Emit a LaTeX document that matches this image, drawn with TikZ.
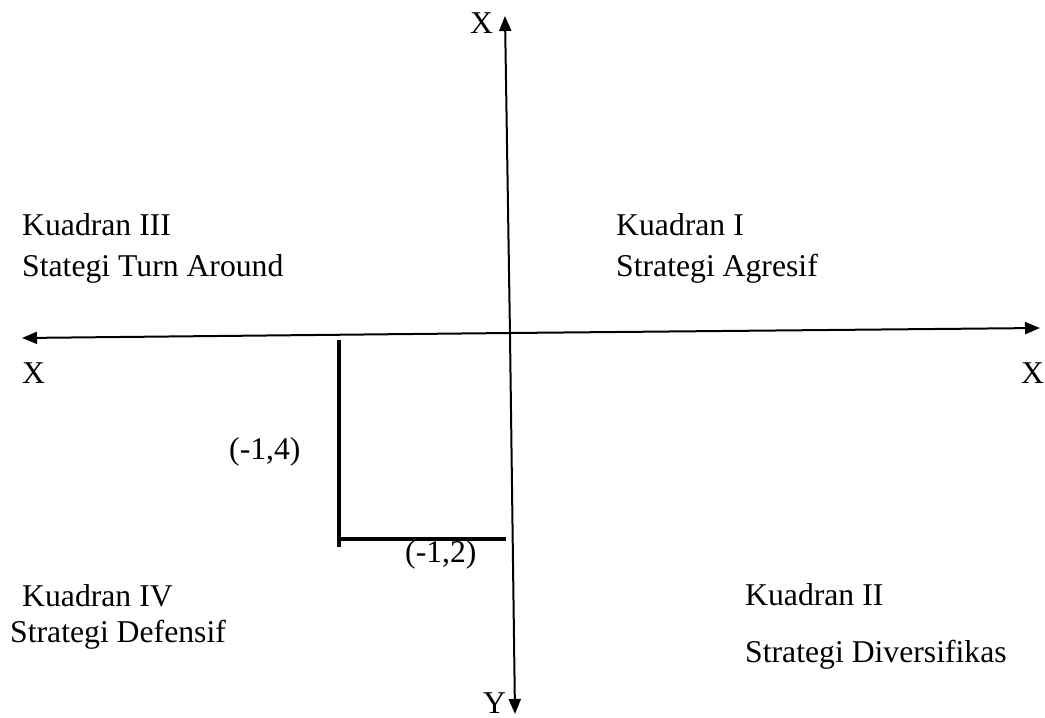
\documentclass[tikz,border=0pt]{standalone}
\usepackage{fontspec}
\setmainfont{Liberation Serif}
\usetikzlibrary{arrows.meta}
\tikzset{
  lbl/.style={anchor=base west, inner sep=0pt, font=\fontsize{31.7}{38}\selectfont},
  axis/.style={line width=2pt, -{Triangle[length=15pt,width=12pt]}},
  brk/.style={line width=3.5pt},
}
\begin{document}
\begin{tikzpicture}[x=1pt,y=-1pt]
\useasboundingbox (0,0) rectangle (1045,718);
% axis end points
\coordinate (vt) at (505,16);
\coordinate (vb) at (515,714);
\coordinate (hl) at (22,338);
\coordinate (hr) at (1040,328);
\coordinate (vmid) at (510,335);
\coordinate (hmid) at (510,333);
\draw[axis] (vmid) -- (vt);
\draw[axis] (vmid) -- (vb);
\draw[axis] (hmid) -- (hl);
\draw[axis] (hmid) -- (hr);
% bracket
\coordinate (b1) at (339,340);
\coordinate (b2) at (339,547);
\coordinate (b3) at (339,539);
\coordinate (b4) at (506,539);
\draw[brk] (b1) -- (b2);
\draw[brk] (b3) -- (b4);
% labels
\node[lbl] (xt) at (470,33) {X};
\node[lbl] (xl) at (22,383) {X};
\node[lbl] (xr) at (1021,383) {X};
\node[lbl] (yb) at (483,713) {Y};
\node[lbl] (k3) at (22,235) {Kuadran III};
\node[lbl] (s3) at (22,276) {Stategi Turn Around};
\node[lbl] (k1) at (616,235) {Kuadran I};
\node[lbl] (s1) at (616,276) {Strategi Agresif};
\node[lbl] (k4) at (22,606) {Kuadran IV};
\node[lbl] (s4) at (10,642) {Strategi Defensif};
\node[lbl] (k2) at (745,605) {Kuadran II};
\node[lbl] (s2) at (745,662) {Strategi Diversifikas};
\node[lbl] (p14) at (229,459) {(-1,4)};
\node[lbl] (p12) at (405,562) {(-1,2)};
\end{tikzpicture}
\end{document}
